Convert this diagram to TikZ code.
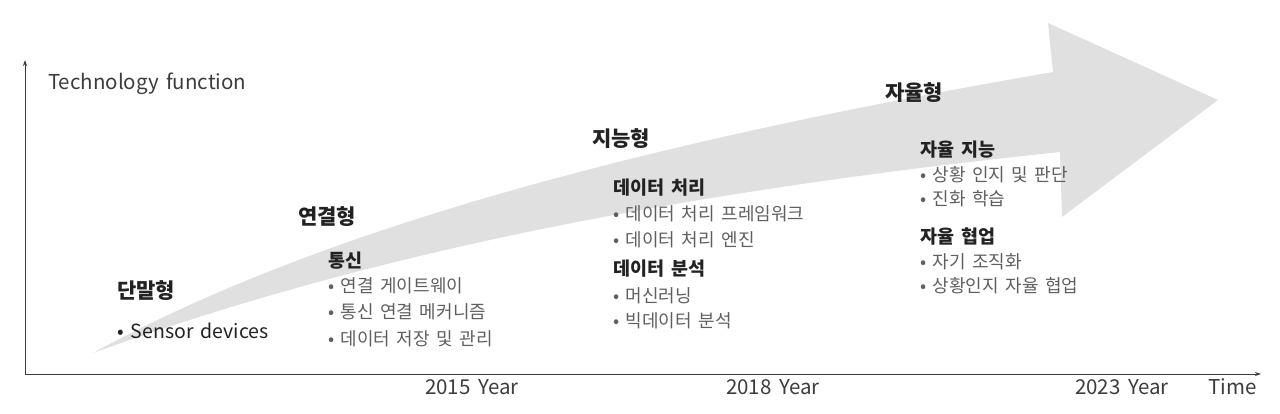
\documentclass[tikz,border=0pt]{standalone}
\usepackage{fontspec}
\setmainfont{Noto Sans CJK KR}[WordSpace=1.6]
\usetikzlibrary{arrows.meta}
\definecolor{band}{RGB}{224,224,224}
\definecolor{headc}{RGB}{34,34,34}
\definecolor{itemc}{RGB}{95,95,95}
\definecolor{axisc}{RGB}{60,60,60}
\begin{document}
\begin{tikzpicture}[x=1pt,y=-1pt,
  big/.style={anchor=west,inner sep=0pt,font=\fontsize{21}{25}\selectfont\bfseries,text=headc},
  sub/.style={anchor=west,inner sep=0pt,font=\fontsize{18.5}{22}\selectfont\bfseries,text=headc},
  itm/.style={anchor=west,inner sep=0pt,font=\fontsize{18}{22}\selectfont,text=itemc},
  lab/.style={anchor=west,inner sep=0pt,font=\fontsize{20.5}{24}\selectfont,text=axisc},
  sens/.style={anchor=west,inner sep=0pt,font=\fontsize{19.5}{23}\selectfont,text=headc},
  axisline/.style={draw=axisc,line width=1pt,-{Stealth[length=6pt,width=4pt]}}
]
\useasboundingbox (0,0) rectangle (1280,414);
% big arrow
\fill[band] (93,353) .. controls (300,240) and (600,150) .. (1053,72)
  -- (1048,23) -- (1218,100) -- (1062,217) -- (1060,152)
  .. controls (650,195) and (350,260) .. (93,353) -- cycle;
% axes
\coordinate (O) at (25,374);
\coordinate (ytop) at (25,60);
\coordinate (xend) at (1261,374);
\draw[axisline] (O) -- (ytop);
\draw[axisline] (O) -- (xend);
% axis labels
\node[lab] (yl) at (48,84) {Technology function};
\node[lab] (y15) at (425,387) {2015 Year};
\node[lab] (y18) at (726,387) {2018 Year};
\node[lab] (y23) at (1075,387) {2023 Year};
\node[lab] (tm) at (1208,387) {Time};
% stage 1
\node[big] (t1) at (117,291) {단말형};
\node[sens] (t1a) at (117,331) {• Sensor devices};
% stage 2
\node[big] (t2) at (298,217) {연결형};
\node[sub] (t2h) at (328,261) {통신};
\node[itm] (t2a) at (328,286) {• 연결 게이트웨이};
\node[itm] (t2b) at (328,312) {• 통신 연결 메커니즘};
\node[itm] (t2c) at (328,339) {• 데이터 저장 및 관리};
% stage 3
\node[big] (t3) at (592,139) {지능형};
\node[sub] (t3h) at (613,188) {데이터 처리};
\node[itm] (t3a) at (613,214) {• 데이터 처리 프레임워크};
\node[itm] (t3b) at (613,240) {• 데이터 처리 엔진};
\node[sub] (t3g) at (613,269) {데이터 분석};
\node[itm] (t3c) at (613,296) {• 머신러닝};
\node[itm] (t3d) at (613,321) {• 빅데이터 분석};
% stage 4
\node[big] (t4) at (885,93) {자율형};
\node[sub] (t4h) at (920,150) {자율 지능};
\node[itm] (t4a) at (920,175) {• 상황 인지 및 판단};
\node[itm] (t4b) at (920,199) {• 진화 학습};
\node[sub] (t4g) at (920,237) {자율 협업};
\node[itm] (t4c) at (920,262) {• 자기 조직화};
\node[itm] (t4d) at (920,286) {• 상황인지 자율 협업};
\end{tikzpicture}
\end{document}
